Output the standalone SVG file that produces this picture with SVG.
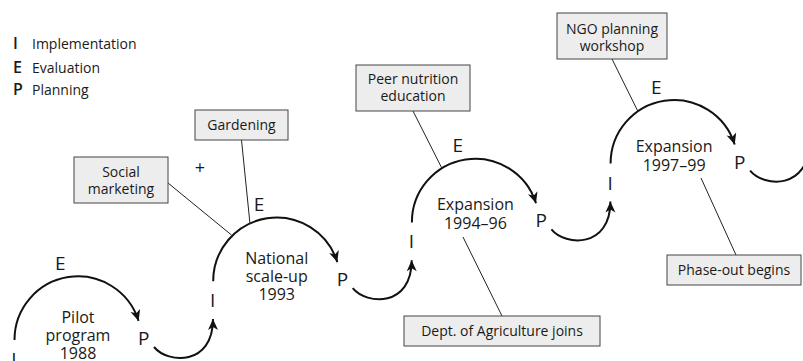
<svg xmlns="http://www.w3.org/2000/svg" width="803" height="361" viewBox="0 0 803 361">
<defs>
<style>
text{font-family:"Open Sans","Noto Sans","DejaVu Sans",sans-serif;fill:#1a1a1a}
.leg{font-size:14px}
.legk{font-size:16px;font-weight:600}
.let{font-size:19px;font-weight:500}
.lab{font-size:16px;text-anchor:middle}
.box rect{fill:#ededed;stroke:#444;stroke-width:1}
.box text{font-size:14px;text-anchor:middle}
.arc{fill:none;stroke:#111;stroke-width:2;marker-end:url(#ah)}
.call{fill:none;stroke:#222;stroke-width:1}
</style>
<marker id="ah" viewBox="-12 -6 13 12" refX="0" refY="0" markerWidth="13" markerHeight="12" markerUnits="userSpaceOnUse" orient="auto">
<path d="M0,0 L-11,-5 L-8,0 L-11,5 Z" fill="#111"/>
</marker>
</defs>
<rect width="803" height="361" fill="#fff"/>

<g id="legend">
<text class="legk" x="15.5" y="49" text-anchor="middle">I</text><text class="leg" x="32" y="49">Implementation</text>
<text class="legk" x="13" y="73">E</text><text class="leg" x="32" y="73">Evaluation</text>
<text class="legk" x="13" y="95">P</text><text class="leg" x="32" y="95">Planning</text>
</g>

<g id="connectors">
<path class="arc" d="M14.5,340 A63.5,63.5 0 0 1 138.6,320.9"/>
<path class="arc" d="M213.2,281.2 A63.5,63.5 0 0 1 337.3,262.1"/>
<path class="arc" d="M411.9,222.4 A63.5,63.5 0 0 1 536,203.3"/>
<path class="arc" d="M610.6,163.6 A63.5,63.5 0 0 1 734.7,144.5"/>
<path class="arc" d="M154,347 C168,364 213,366 213,319"/>
<path class="arc" d="M352.7,288.2 C366.7,305.2 411.7,307.2 411.7,260.2"/>
<path class="arc" d="M551.4,229.4 C565.4,246.4 610.4,248.4 610.4,201.4"/>
<path class="arc" d="M750.1,170.6 C764.1,187.6 809.1,189.6 809.1,142.6"/>
<line class="call" x1="168" y1="183" x2="231.5" y2="235"/>
<line class="call" x1="241.5" y1="140" x2="250" y2="224"/>
<line class="call" x1="413" y1="111" x2="442" y2="168.5"/>
<line class="call" x1="612" y1="59" x2="638" y2="111.5"/>
<line class="call" x1="463" y1="237" x2="502" y2="316"/>
<line class="call" x1="701" y1="178" x2="736" y2="255"/>
</g>

<g id="loop-pilot">
<text class="let" x="55" y="270">E</text>
<text class="let" x="138" y="345">P</text>
<text class="let" x="14" y="366" text-anchor="middle">I</text>
<text class="lab" x="78" y="323">Pilot</text>
<text class="lab" x="78" y="341">program</text>
<text class="lab" x="78" y="359">1988</text>
</g>

<g id="loop-national">
<text class="let" x="253.7" y="211.2">E</text>
<text class="let" x="336.7" y="286.2">P</text>
<text class="let" x="212.7" y="307.2" text-anchor="middle">I</text>
<text class="lab" x="276.7" y="264.2">National</text>
<text class="lab" x="276.7" y="282.2">scale-up</text>
<text class="lab" x="276.7" y="300.2">1993</text>
</g>

<g id="loop-expansion-1994">
<text class="let" x="452.4" y="152.4">E</text>
<text class="let" x="535.4" y="227.4">P</text>
<text class="let" x="411.4" y="248.4" text-anchor="middle">I</text>
<text class="lab" x="475.4" y="210">Expansion</text>
<text class="lab" x="475.4" y="229">1994–96</text>
</g>

<g id="loop-expansion-1997">
<text class="let" x="651.1" y="93.6">E</text>
<text class="let" x="734.1" y="168.6">P</text>
<text class="let" x="610.1" y="189.6" text-anchor="middle">I</text>
<text class="lab" x="674.1" y="152">Expansion</text>
<text class="lab" x="674.1" y="171">1997–99</text>
</g>

<g id="box-social" class="box">
<rect x="74" y="157" width="94" height="46"/>
<text x="121" y="177">Social</text>
<text x="121" y="194">marketing</text>
</g>
<g id="plus"><text x="200" y="174" font-size="18" text-anchor="middle">+</text></g>
<g id="box-gardening" class="box">
<rect x="195" y="110" width="93" height="30"/>
<text x="241.5" y="130">Gardening</text>
</g>
<g id="box-peer" class="box">
<rect x="356" y="65" width="114" height="46"/>
<text x="413" y="84">Peer nutrition</text>
<text x="413" y="101">education</text>
</g>
<g id="box-ngo" class="box">
<rect x="557" y="13" width="110" height="46"/>
<text x="612" y="34">NGO planning</text>
<text x="612" y="51">workshop</text>
</g>
<g id="box-dept" class="box">
<rect x="404" y="316" width="196" height="30"/>
<text x="502" y="336">Dept. of Agriculture joins</text>
</g>
<g id="box-phaseout" class="box">
<rect x="667" y="255" width="134" height="30"/>
<text x="734" y="275">Phase-out begins</text>
</g>
</svg>
